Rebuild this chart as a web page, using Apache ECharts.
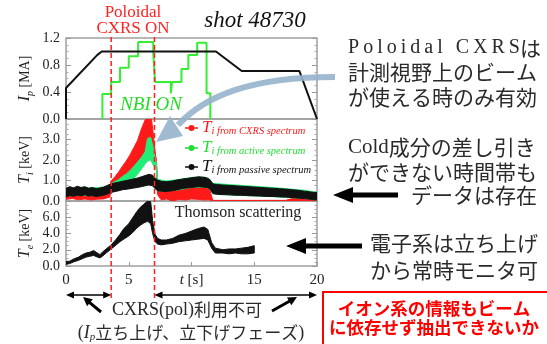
<!DOCTYPE html>
<html><head><meta charset="utf-8">
<script src="https://cdn.jsdelivr.net/npm/echarts@6/dist/echarts.min.js"></script>
<style>html,body{margin:0;padding:0;background:#fff}#c{width:547px;height:344px}</style>
</head><body><div id="c"></div>
<script>
const SERIF = '"Liberation Serif", "DejaVu Serif", serif';
const JP = '"Noto Sans CJK JP", "Noto Sans", sans-serif';

// ---- data ----
const ipTime  = [0, 0, 2.5, 2.85, 11.95, 14.0, 18.6, 20.0];
const ipValue = [0, 0.46, 0.95, 1.0, 1.0, 0.71, 0.71, 0.0];

const nbiTime  = [2.9, 2.9, 3.6, 3.6, 4.3, 4.3, 5.0, 5.0, 5.75, 5.75, 6.95, 6.95, 7.1, 7.1, 8.35, 8.35, 8.45, 8.45, 9.2, 9.2, 9.75, 9.75, 10.45, 10.45, 11.2, 11.2, 11.5, 11.5];
const nbiValue = [0, 0.37, 0.37, 0.55, 0.55, 0.76, 0.76, 0.93, 0.93, 1.14, 1.14, 0.97, 0.97, 0.55, 0.55, 0.38, 0.38, 0.55, 0.55, 0.74, 0.74, 0.95, 0.95, 1.13, 1.13, 0.38, 0.38, 0];

// [t, low, high] envelopes of the scattered Ti / Te data
const tiCxrs = [[0,0.08,0.28],[0.5,0.12,0.32],[1.0,0.06,0.27],[1.5,0.10,0.30],[2.0,0.05,0.25],[2.5,0.09,0.28],[3.0,0.10,0.32],[3.5,0.20,0.55],[3.6,0.70,0.98],[3.9,0.78,1.18],[4.2,0.92,1.42],[4.5,1.08,1.70],[4.8,1.22,1.95],[5.1,1.45,2.25],[5.4,1.70,2.60],[5.7,1.90,2.95],[6.0,2.10,3.50],[6.3,2.40,3.95],[6.55,2.90,4.10],[6.8,2.70,4.05],[6.95,2.20,3.30],[7.1,1.70,2.40],[7.2,1.50,2.00],[7.3,0.30,1.00],[7.6,0.05,0.70],[8.0,0.10,0.60],[8.5,0.0,0.65],[9.0,0.08,0.60],[9.5,0.05,0.70],[10.0,0.10,0.68],[10.5,0.08,0.72],[11.0,0.05,0.70],[11.4,0.06,0.65],[11.7,0.0,0.03],[17.5,0.0,0.03],[18,0.0,0.12],[19,0.0,0.15],[20,0.0,0.12]];
const tiActive = [[0,0.25,0.62],[1,0.28,0.66],[2,0.26,0.64],[3,0.30,0.68],[3.5,0.40,0.80],[3.6,0.60,0.85],[3.9,0.66,0.95],[4.2,0.72,1.05],[4.5,0.82,1.20],[4.8,0.92,1.32],[5.1,1.00,1.48],[5.4,1.10,1.68],[5.7,1.30,1.90],[6.0,1.55,2.12],[6.3,1.80,2.40],[6.5,1.95,3.05],[6.75,2.00,3.10],[6.95,1.75,2.60],[7.1,1.65,2.10],[7.2,1.55,1.85],[7.3,0.50,1.05],[8,0.48,0.98],[9,0.55,1.05],[10,0.66,1.15],[11,0.68,1.17],[11.45,0.60,1.06],[11.7,0.36,0.86],[13,0.30,0.80],[15,0.25,0.72],[17,0.20,0.63],[19,0.12,0.52],[20,0.05,0.42]];
const tiPassive = [[0,0.20,0.62],[0.3,0.26,0.70],[0.6,0.23,0.64],[0.9,0.28,0.72],[1.2,0.25,0.66],[1.5,0.30,0.70],[1.8,0.24,0.62],[2.1,0.26,0.66],[2.4,0.22,0.60],[2.7,0.25,0.63],[3.0,0.28,0.68],[3.3,0.34,0.76],[3.6,0.42,0.84],[3.9,0.46,0.88],[4.2,0.50,0.92],[4.5,0.55,0.96],[4.8,0.57,1.00],[5.1,0.60,1.04],[5.4,0.63,1.08],[5.7,0.66,1.12],[6.0,0.70,1.18],[6.3,0.74,1.24],[6.6,0.78,1.30],[6.9,0.74,1.26],[7.1,0.60,1.12],[7.3,0.50,1.02],[7.6,0.48,0.96],[7.9,0.46,0.94],[8.2,0.48,0.95],[8.5,0.50,0.98],[8.8,0.54,1.02],[9.1,0.58,1.05],[9.4,0.62,1.08],[9.7,0.64,1.10],[10.0,0.66,1.14],[10.3,0.68,1.16],[10.6,0.70,1.18],[10.9,0.68,1.16],[11.2,0.66,1.14],[11.45,0.60,1.05],[11.7,0.36,0.84],[12.0,0.33,0.80],[12.5,0.31,0.78],[13.0,0.30,0.76],[13.5,0.28,0.74],[14.0,0.28,0.72],[14.5,0.26,0.70],[15.0,0.25,0.68],[15.5,0.24,0.66],[16.0,0.22,0.64],[16.5,0.22,0.62],[17.0,0.20,0.60],[17.5,0.19,0.58],[18.0,0.17,0.55],[18.5,0.14,0.52],[19.0,0.12,0.48],[19.5,0.08,0.44],[20.0,0.05,0.40]];
const teThomson = [[0,0.2,0.55],[0.3,0.3,0.6],[0.6,0.5,0.85],[1.0,0.7,1.1],[1.3,0.9,1.4],[1.6,1.1,1.6],[1.9,1.2,1.7],[2.2,1.3,1.9],[2.5,1.1,1.6],[2.7,1.0,1.4],[2.9,1.2,1.7],[3.2,1.6,2.1],[3.6,2.1,2.6],[4.0,2.6,3.3],[4.3,3.0,3.9],[4.6,3.3,4.6],[5.0,3.7,5.2],[5.3,4.1,5.9],[5.6,4.6,6.6],[5.9,5.0,7.2],[6.2,5.3,7.6],[6.5,5.5,8.0],[6.75,5.2,7.9],[6.9,4.0,5.6],[7.1,3.0,3.9],[7.3,2.7,3.4],[7.6,2.6,3.2],[8.0,2.7,3.2],[8.5,2.8,3.4],[9.0,3.0,3.8],[9.5,3.1,4.0],[10.0,3.2,4.3],[10.5,3.3,4.6],[11.0,3.4,4.8],[11.3,3.2,4.5],[11.6,2.2,2.9],[11.9,1.6,2.2],[12.5,1.6,2.0],[13.0,1.5,2.1],[13.5,1.6,2.1],[14.0,1.5,2.2],[14.5,1.5,2.3],[15.0,1.6,2.5]];

const cxrsWindow = [3.6, 7.05];
const xTickLabels = {0:'0', 5:'5', 10:'{i|t} [s]', 15:'15', 20:'20'};

// ---- chart ----
const chart = echarts.init(document.getElementById('c'));
const ip = ipTime.map((t, i) => [t, ipValue[i]]);
const nbi = nbiTime.map((t, i) => [t, nbiValue[i]]);

function band(color) {
  return function (params, api) {
    if (params.dataIndexInside !== 0) return null;
    const n = params.dataInsideLength, up = [], dn = [];
    for (let i = 0; i < n; i++) {
      up.push(api.coord([api.value(0, i), api.value(2, i)]));
      dn.push(api.coord([api.value(0, i), api.value(1, i)]));
    }
    return {type: 'polygon', shape: {points: up.concat(dn.reverse())},
            style: {fill: color, stroke: color, lineWidth: 1}};
  };
}

const grids = [
  {left: 66, width: 251, top: 38, height: 81},
  {left: 66, width: 251, top: 119, height: 82},
  {left: 66, width: 251, top: 201, height: 65}
].map(g => Object.assign(g, {show: true, borderColor: '#a0a0a0', borderWidth: 1.5, backgroundColor: 'transparent'}));

const axisFont = {fontFamily: SERIF, fontSize: 14, color: '#222'};
function xAx(i, labels) {
  return {type: 'value', gridIndex: i, min: 0, max: 20, interval: 5,
    axisLine: {show: false}, splitLine: {show: false},
    axisTick: {show: labels, inside: true, length: 4, lineStyle: {color: '#999'}},
    axisLabel: labels ? Object.assign({}, axisFont, {fontSize: 15, margin: 7,
        formatter: v => xTickLabels[v] !== undefined ? xTickLabels[v] : '',
        rich: {i: {fontFamily: SERIF, fontStyle: 'italic', fontSize: 15, color: '#222'}}}) : {show: false}};
}
function yAx(i, max, interval, name, hideMax, right) {
  const o = {type: 'value', gridIndex: i, min: 0, max: max, interval: interval,
    position: right ? 'right' : 'left',
    axisLine: {show: false}, splitLine: {show: false},
    axisTick: {show: true, inside: true, length: 5, lineStyle: {color: '#999'}},
    minorTick: {show: true, splitNumber: 4, length: 2.5, lineStyle: {color: '#aaa'}}};
  if (right) { o.axisLabel = {show: false}; return o; }
  o.axisLabel = Object.assign({}, axisFont, {margin: 6, showMaxLabel: !hideMax,
      formatter: v => v.toFixed(1)});
  o.name = name; o.nameLocation = 'middle'; o.nameGap = 31; o.nameRotate = 90;
  o.nameTextStyle = {fontFamily: SERIF, fontSize: 14, color: '#222', lineHeight: 20,
    rich: {i: {fontFamily: SERIF, fontStyle: 'italic', fontSize: 16, color: '#222', lineHeight: 20},
           s: {fontFamily: SERIF, fontStyle: 'italic', fontSize: 10, color: '#222', lineHeight: 12, verticalAlign: 'bottom'},
           n: {fontFamily: SERIF, fontSize: 14, color: '#222', lineHeight: 20}}};
  return o;
}

chart.setOption({
  animation: false,
  backgroundColor: '#fff',
  grid: grids,
  xAxis: [xAx(0, false), xAx(1, false), xAx(2, true)],
  yAxis: [
    yAx(0, 1.2, 0.4, '{i|I}{s|p}{n| [MA]}', false, false),
    yAx(1, 4, 1, '{i|T}{s|i}{n| [keV]}', true, false),
    yAx(2, 8, 2, '{i|T}{s|e}{n| [keV]}', true, false),
    yAx(0, 1.2, 0.4, '', false, true),
    yAx(1, 4, 1, '', true, true),
    yAx(2, 8, 2, '', true, true)
  ],
  series: [
    {type: 'line', xAxisIndex: 0, yAxisIndex: 0, data: nbi, symbol: 'none', lineStyle: {color: '#33ee33', width: 2}, z: 3},
    {type: 'line', xAxisIndex: 0, yAxisIndex: 0, data: ip, symbol: 'none', lineStyle: {color: '#111', width: 2}, z: 4},
    {type: 'custom', xAxisIndex: 1, yAxisIndex: 1, data: tiCxrs, renderItem: band('#ff1a1a'), clip: true, z: 2},
    {type: 'custom', xAxisIndex: 1, yAxisIndex: 1, data: tiActive, renderItem: band('#22ee77'), clip: true, z: 3},
    {type: 'custom', xAxisIndex: 1, yAxisIndex: 1, data: tiPassive, renderItem: band('#111'), clip: true, z: 4},
    {type: 'custom', xAxisIndex: 2, yAxisIndex: 2, data: teThomson, renderItem: band('#111'), clip: true, z: 4}
  ]
});

// ---- annotations ----
function arrow(x1, y1, x2, y2, w, hl, hw, color, both) {
  const dx = x2 - x1, dy = y2 - y1, L = Math.hypot(dx, dy), ux = dx / L, uy = dy / L, px = -uy, py = ux;
  const head = (tx, ty, sx, sy) => ({type: 'polygon', z: 100, shape: {points: [[tx, ty],
      [tx - sx * hl + px * hw / 2, ty - sy * hl + py * hw / 2], [tx - sx * hl - px * hw / 2, ty - sy * hl - py * hw / 2]]},
      style: {fill: color}});
  const sx = both ? x1 + ux * hl * 0.8 : x1, sy = both ? y1 + uy * hl * 0.8 : y1;
  const els = [{type: 'line', z: 100, shape: {x1: sx, y1: sy, x2: x2 - ux * hl * 0.8, y2: y2 - uy * hl * 0.8},
    style: {stroke: color, lineWidth: w}}, head(x2, y2, ux, uy)];
  if (both) els.push(head(x1, y1, -ux, -uy));
  return els;
}
function txt(x, y, text, style) {
  return {type: 'text', z: 100, x: x, y: y, style: Object.assign({text: text, verticalAlign: 'middle'}, style)};
}
const dark = '#2a2a2a';
const jp21 = {fontFamily: JP, fontSize: 21, fill: dark};
const g = [];

g.push(txt(133, 13, 'Poloidal', {fontFamily: SERIF, fontSize: 17, fill: '#ff2222', align: 'center'}));
g.push(txt(133, 29, 'CXRS ON', {fontFamily: SERIF, fontSize: 17, fill: '#ff2222', align: 'center'}));
g.push(txt(255, 21, 'shot 48730', {fontFamily: SERIF, fontStyle: 'italic', fontSize: 23, fill: '#111', align: 'center'}));
g.push(txt(151, 105, 'NBI ON', {fontFamily: SERIF, fontStyle: 'italic', fontSize: 19, fill: '#22dd22', align: 'center'}));
g.push(txt(238, 213, 'Thomson scattering', {fontFamily: SERIF, fontSize: 16, fill: '#222', align: 'center'}));

// legend
const legendRows = [['#ff1a1a', 'i from CXRS spectrum', 128], ['#22dd33', 'i from active spectrum', 148], ['#111', 'i from passive spectrum', 167]];
legendRows.forEach(r => {
  g.push({type: 'line', z: 100, shape: {x1: 185, y1: r[2], x2: 198, y2: r[2]}, style: {stroke: r[0], lineWidth: 1.5}});
  g.push({type: 'circle', z: 100, shape: {cx: 191.5, cy: r[2], r: 3}, style: {fill: r[0]}});
  g.push({type: 'text', z: 100, x: 202, y: r[2], style: {text: '{T|T}{s|' + r[1] + '}', verticalAlign: 'middle',
    rich: {T: {fontFamily: SERIF, fontStyle: 'italic', fontSize: 17, fill: r[0], lineHeight: 18},
           s: {fontFamily: SERIF, fontStyle: 'italic', fontSize: 10.5, fill: r[0], lineHeight: 11, verticalAlign: 'bottom'}}}});
});

// right-side notes
const ts = '\u2009';
g.push({type: 'text', z: 100, x: 348, y: 48, style: {text: '{s|' + 'Poloidal CXRS'.split('').join(ts) + '}{j|は}', verticalAlign: 'middle',
  rich: {s: {fontFamily: SERIF, fontSize: 20, fill: dark}, j: jp21}}});
g.push(txt(348, 72, '計測視野上のビーム', jp21));
g.push(txt(348, 97, 'が使える時のみ有効', jp21));
g.push({type: 'text', z: 100, x: 348, y: 147, style: {text: '{s|Cold}{j|成分の差し引き}', verticalAlign: 'middle',
  rich: {s: {fontFamily: SERIF, fontSize: 21, fill: dark}, j: jp21}}});
g.push(txt(348, 172, 'ができない時間帯も', jp21));
g.push(txt(537, 195, 'データは存在', Object.assign({align: 'right'}, jp21)));
g.push(txt(538, 243, '電子系は立ち上げ', Object.assign({align: 'right'}, jp21)));
g.push(txt(538, 270, 'から常時モニタ可', Object.assign({align: 'right'}, jp21)));

// red box
g.push({type: 'rect', z: 99, shape: {x: 323, y: 292, width: 230, height: 60}, style: {fill: '#fff', stroke: '#ff0000', lineWidth: 2}});
const redBold = {fontFamily: JP, fontSize: 17.5, fontWeight: 'bold', fill: '#ff0000', align: 'center'};
g.push(txt(434, 308, 'イオン系の情報もビーム', redBold));
g.push(txt(434, 327, 'に依存せず抽出できないか', redBold));

// bottom notes
g.push({type: 'text', z: 100, x: 187, y: 310, style: {text: '{s|CXRS(pol)}{j|利用不可}', align: 'center', verticalAlign: 'middle',
  rich: {s: {fontFamily: SERIF, fontSize: 18, fill: dark}, j: {fontFamily: JP, fontSize: 17, fill: dark}}}});
g.push({type: 'text', z: 100, x: 191, y: 333, style: {text: '{s|(}{i|I}{b|p}{j|立ち上げ、立下げフェーズ}{s|)}', align: 'center', verticalAlign: 'middle',
  rich: {s: {fontFamily: SERIF, fontSize: 18, fill: dark, lineHeight: 20}, i: {fontFamily: SERIF, fontStyle: 'italic', fontSize: 18, fill: dark, lineHeight: 20},
         b: {fontFamily: SERIF, fontStyle: 'italic', fontSize: 11, fill: dark, lineHeight: 12, verticalAlign: 'bottom'},
         j: {fontFamily: JP, fontSize: 17, fill: dark, lineHeight: 20}}}});

// black arrows
g.push(...arrow(398, 195, 333, 195, 5, 20, 16, '#000'));
g.push(...arrow(362, 246, 286, 246, 5, 20, 16, '#000'));
g.push(...arrow(101, 312, 83, 297, 3, 9, 9, '#000'));
g.push(...arrow(272, 311, 297, 297, 3, 9, 9, '#000'));

// blue curved arrow
g.push({type: 'bezierCurve', z: 90, shape: {x1: 335, y1: 77, cpx1: 250, cpy1: 77, cpx2: 205, cpy2: 96, x2: 178, y2: 125},
  style: {stroke: 'rgba(150,178,204,0.9)', lineWidth: 6, fill: null}});
g.push({type: 'polygon', z: 90, shape: {points: [[156, 142], [170, 116], [183, 136]]}, style: {fill: 'rgba(150,178,204,0.9)'}});

// red dashed CXRS window lines and the double arrows, placed with the axes' own scales
const yTop = chart.convertToPixel({yAxisIndex: 0}, 1.2);
const yAxisBottom = chart.convertToPixel({yAxisIndex: 2}, 0);
const x0 = chart.convertToPixel({xAxisIndex: 2}, 0), x20 = chart.convertToPixel({xAxisIndex: 2}, 20);
const xw = cxrsWindow.map(t => chart.convertToPixel({xAxisIndex: 2}, t));
xw.forEach(x => g.push({type: 'line', z: 95, shape: {x1: x, y1: yTop - 1, x2: x, y2: yAxisBottom + 35},
  style: {stroke: '#ff2020', lineWidth: 1.5, lineDash: [5, 3]}}));
const ya = yAxisBottom + 29;
g.push(...arrow(x0, ya, xw[0], ya, 1.5, 8, 7, '#000', true));
g.push(...arrow(xw[1], ya, x20, ya, 1.5, 8, 7, '#000', true));

chart.setOption({graphic: g});
</script></body></html>
